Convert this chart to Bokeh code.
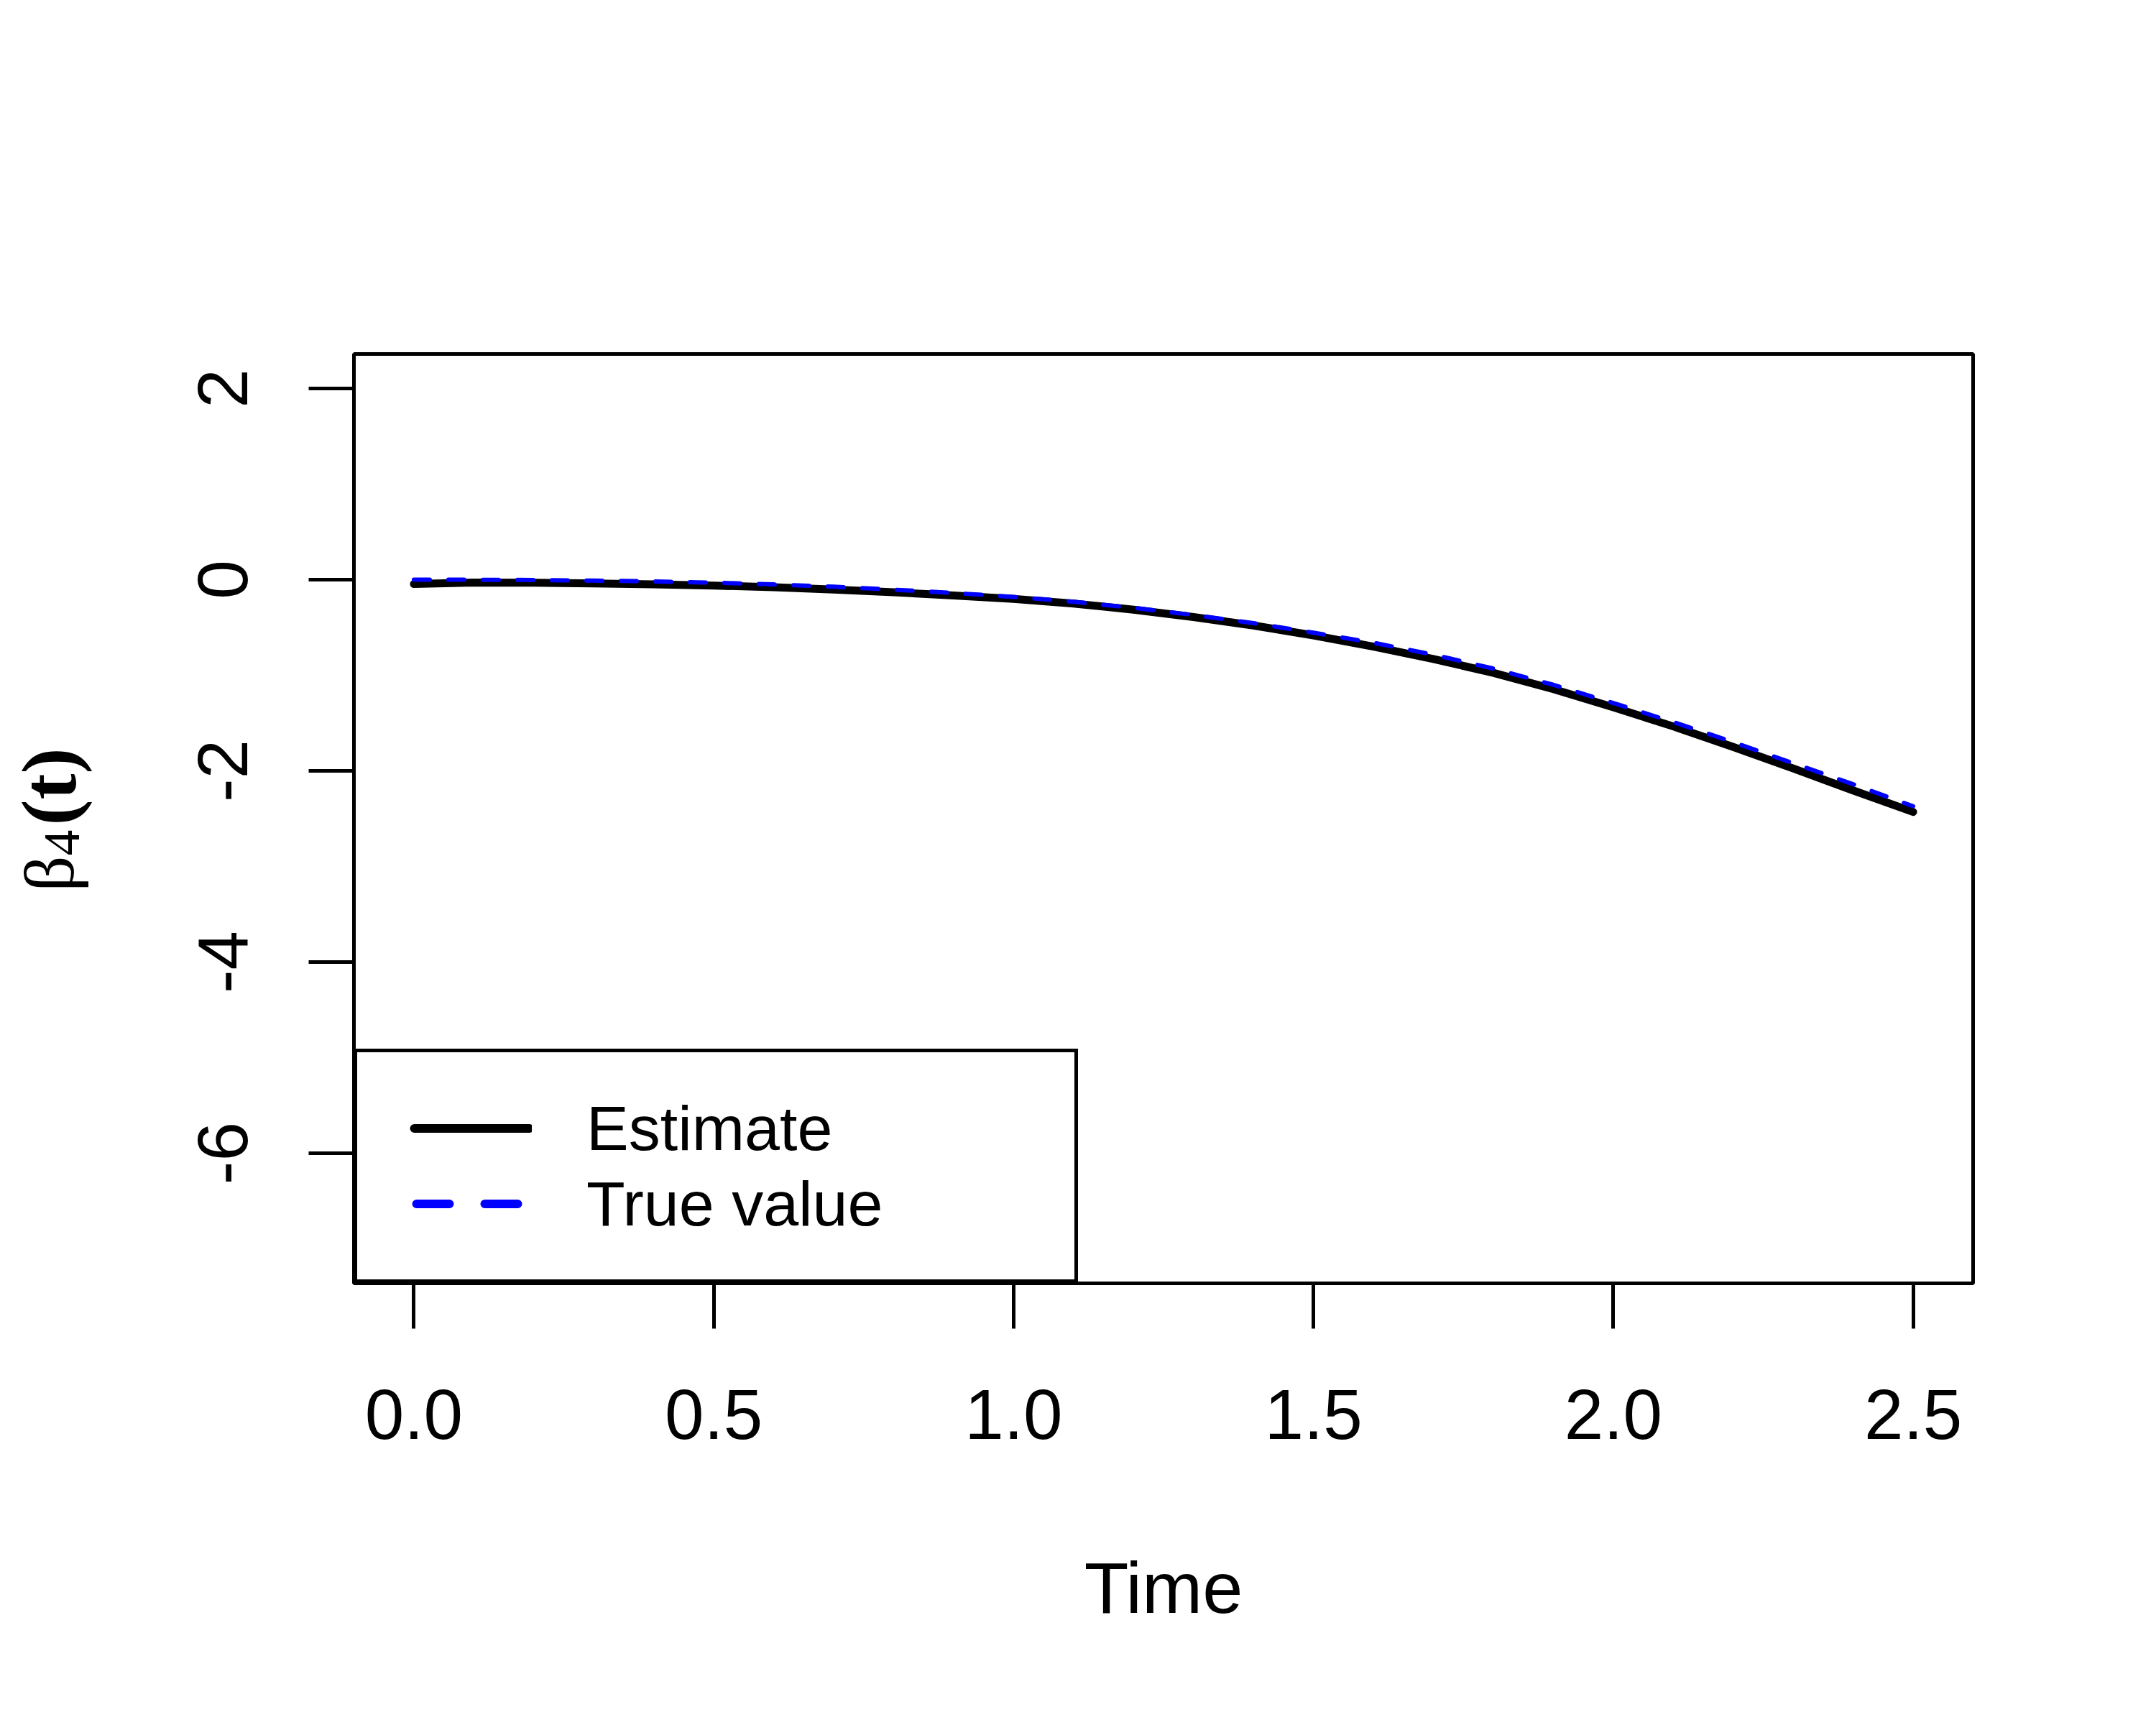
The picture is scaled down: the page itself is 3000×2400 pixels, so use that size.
import math
from bokeh.plotting import figure
from bokeh.layouts import row
from bokeh.models import (Range1d, FixedTicker, NumeralTickFormatter, Legend, LegendItem, Label)
from bokeh.embed import file_html
from bokeh.resources import INLINE

# ---------------- data ----------------
time = [0.0, 0.1, 0.2, 0.3, 0.4, 0.5, 0.6, 0.7, 0.8, 0.9, 1.0, 1.1, 1.2,
        1.3, 1.4, 1.5, 1.6, 1.7, 1.8, 1.9, 2.0, 2.1, 2.2, 2.3, 2.4, 2.5]
estimate = [-0.045, -0.030, -0.032, -0.040, -0.050, -0.062, -0.080, -0.104,
            -0.132, -0.165, -0.202, -0.250, -0.315, -0.392, -0.480, -0.583,
            -0.700, -0.830, -0.975, -1.145, -1.335, -1.535, -1.750, -1.975,
            -2.205, -2.430]
true_value = [0.000, -0.001, -0.004, -0.010, -0.019, -0.032, -0.050, -0.074,
              -0.105, -0.140, -0.180, -0.232, -0.295, -0.370, -0.455, -0.555,
              -0.660, -0.785, -0.930, -1.100, -1.290, -1.490, -1.700, -1.920,
              -2.140, -2.370]
x_ticks = [0.0, 0.5, 1.0, 1.5, 2.0, 2.5]
y_ticks = [2, 0, -2, -4, -6]
series_names = ["Estimate", "True value"]
x_label = "Time"
y_label_parts = ["β", "4", "(t)"]

# ---------------- geometry ----------------
W, H = 2984, 2384
LW = 200                      # width of the strip holding the y-axis title
FRAME_LEFT, FRAME_TOP = 492, 492
FRAME_W, FRAME_H = 2253, 1293
X0, X1 = -0.1, 2.6
Y0, Y1 = -7.36, 2.36

# ---- strip with the y-axis title (beta_4(t)) ----
lp = figure(width=LW, height=H, output_backend="svg", toolbar_location=None,
            x_range=Range1d(0, LW),
            y_range=Range1d(FRAME_TOP + FRAME_H, FRAME_TOP),
            x_axis_type=None, y_axis_type=None,
            min_border_left=0, min_border_right=0,
            min_border_top=FRAME_TOP, min_border_bottom=H - FRAME_TOP - FRAME_H)
lp.grid.visible = False
lp.outline_line_color = None
lp.background_fill_color = "white"
lp.border_fill_color = "white"

def ylab(xpix, ypix, text, size, style="normal"):
    return Label(x=xpix, y=ypix, text=text, angle=math.pi / 2,
                 text_font="Liberation Serif", text_font_size=size,
                 text_font_style=style,
                 text_align="left", text_baseline="alphabetic", text_color="black")

lp.add_layout(ylab(68, 1240, y_label_parts[0], "98px"))
lp.add_layout(ylab(86, 1190, y_label_parts[1], "72px"))
lp.add_layout(ylab(68, 1148, y_label_parts[2], "108px", "bold"))

# ---- main plot ----
p = figure(width=W - LW, height=H, output_backend="svg", toolbar_location=None,
           x_range=Range1d(X0, X1), y_range=Range1d(Y0, Y1),
           min_border_left=FRAME_LEFT - LW, min_border_top=FRAME_TOP,
           min_border_right=W - FRAME_LEFT - FRAME_W,
           min_border_bottom=H - FRAME_TOP - FRAME_H)
p.grid.visible = False
p.background_fill_color = "white"
p.border_fill_color = "white"
p.outline_line_color = "black"
p.outline_line_width = 5

for ax in (p.xaxis[0], p.yaxis[0]):
    ax.axis_line_color = "black"
    ax.axis_line_width = 5
    ax.major_tick_out = 63
    ax.major_tick_in = 0
    ax.major_tick_line_width = 5
    ax.major_tick_line_color = "black"
    ax.minor_tick_line_color = None
    ax.major_label_text_font = "Liberation Sans"
    ax.major_label_text_font_size = "98px"
    ax.major_label_text_color = "black"

p.xaxis.major_label_standoff = 85
p.yaxis.major_label_standoff = 85
p.xaxis.ticker = FixedTicker(ticks=x_ticks)
p.xaxis.formatter = NumeralTickFormatter(format="0.0")
p.yaxis.ticker = FixedTicker(ticks=y_ticks)
p.yaxis.formatter = NumeralTickFormatter(format="0")
p.yaxis.major_label_orientation = "vertical"

p.xaxis.axis_label = x_label
p.xaxis.axis_label_text_font = "Liberation Sans"
p.xaxis.axis_label_text_font_size = "101px"
p.xaxis.axis_label_text_font_style = "normal"
p.xaxis.axis_label_text_color = "black"
p.xaxis.axis_label_standoff = 148

# curves
p.line(time, estimate, line_color="black", line_width=11,
       line_cap="round", line_join="round")
p.line(time, true_value, line_color="#0000FF", line_width=6,
       line_dash="22 26", line_cap="round", line_join="round")

# hidden legend proxies (thicker lines as in the reference legend)
est_proxy = p.line(time, estimate, line_color="black", line_width=12,
                   line_cap="round", line_dash="160 1000", line_dash_offset=1134,
                   visible=False)
true_proxy = p.line(time, true_value, line_color="#0000FF", line_width=12,
                    line_cap="round", line_dash="46 49", line_dash_offset=66,
                    visible=False)

legend = Legend(items=[LegendItem(label=series_names[0], renderers=[est_proxy]),
                       LegendItem(label=series_names[1], renderers=[true_proxy])],
                location=(0, 0), margin=0, padding=53, spacing=0,
                glyph_width=190, glyph_height=105, label_height=105,
                label_width=626, label_standoff=76,
                label_text_font="Liberation Sans", label_text_font_size="88px",
                label_text_color="black",
                border_line_color="black", border_line_width=5, border_line_alpha=1.0,
                background_fill_color="white", background_fill_alpha=1.0,
                inactive_fill_alpha=0.0)
p.add_layout(legend, "center")

layout = row(lp, p, spacing=0)
open("out.html", "w").write(file_html(layout, INLINE))
